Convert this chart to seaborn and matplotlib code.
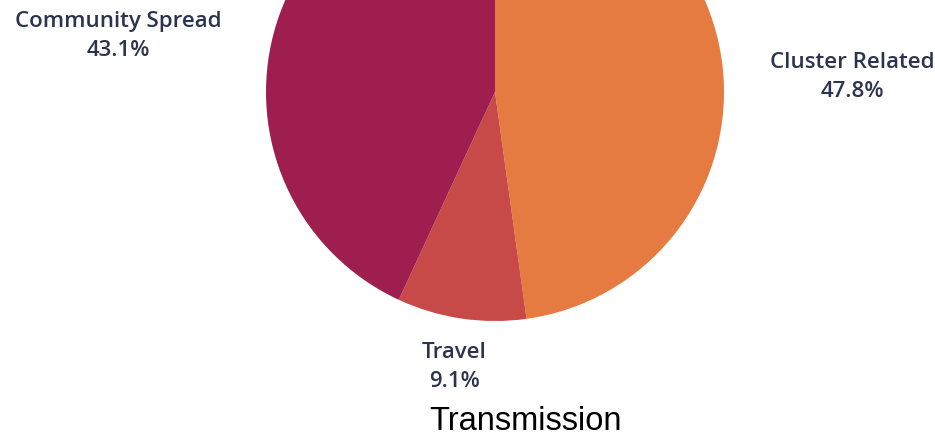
import matplotlib
matplotlib.use("Agg")
import matplotlib.pyplot as plt
import seaborn as sns

categories = ["Cluster Related", "Travel", "Community Spread"]
shares = [47.8, 9.1, 43.1]
slice_colors = ["#e57b40", "#c74a48", "#9e1f4f"]
# label anchor (x, y) in pixels from top-left
label_pos = [(852, 77), (454, 367), (118, 36)]

sns.set_theme(style="white")
plt.rcParams['font.family'] = ['Open Sans', 'DejaVu Sans']

W, H = 935, 437
fig = plt.figure(figsize=(W / 100, H / 100), dpi=100)
ax = fig.add_axes([0, 0, 1, 1])

cx, cy, r = 495, H - 92, 229
wedges, _ = ax.pie(shares, colors=sns.color_palette(slice_colors), startangle=90,
                   counterclock=False, center=(cx, cy), radius=r,
                   wedgeprops=dict(linewidth=0), frame=True)
ax.set_xlim(0, W)
ax.set_ylim(0, H)
ax.set_aspect("equal")
ax.axis("off")

for name, val, (x, y) in zip(categories, shares, label_pos):
    ax.text(x, H - y, f"{name}\n{val}%", ha="center", va="center", fontsize=16,
            color="#2b334f", linespacing=1.5, fontweight="semibold")

fig.text(526 / W, 1 - 421 / H, "Transmission", ha="center", va="center",
         fontsize=23.5, family="Liberation Sans", color="black")

fig.savefig("out.png", dpi=100)
